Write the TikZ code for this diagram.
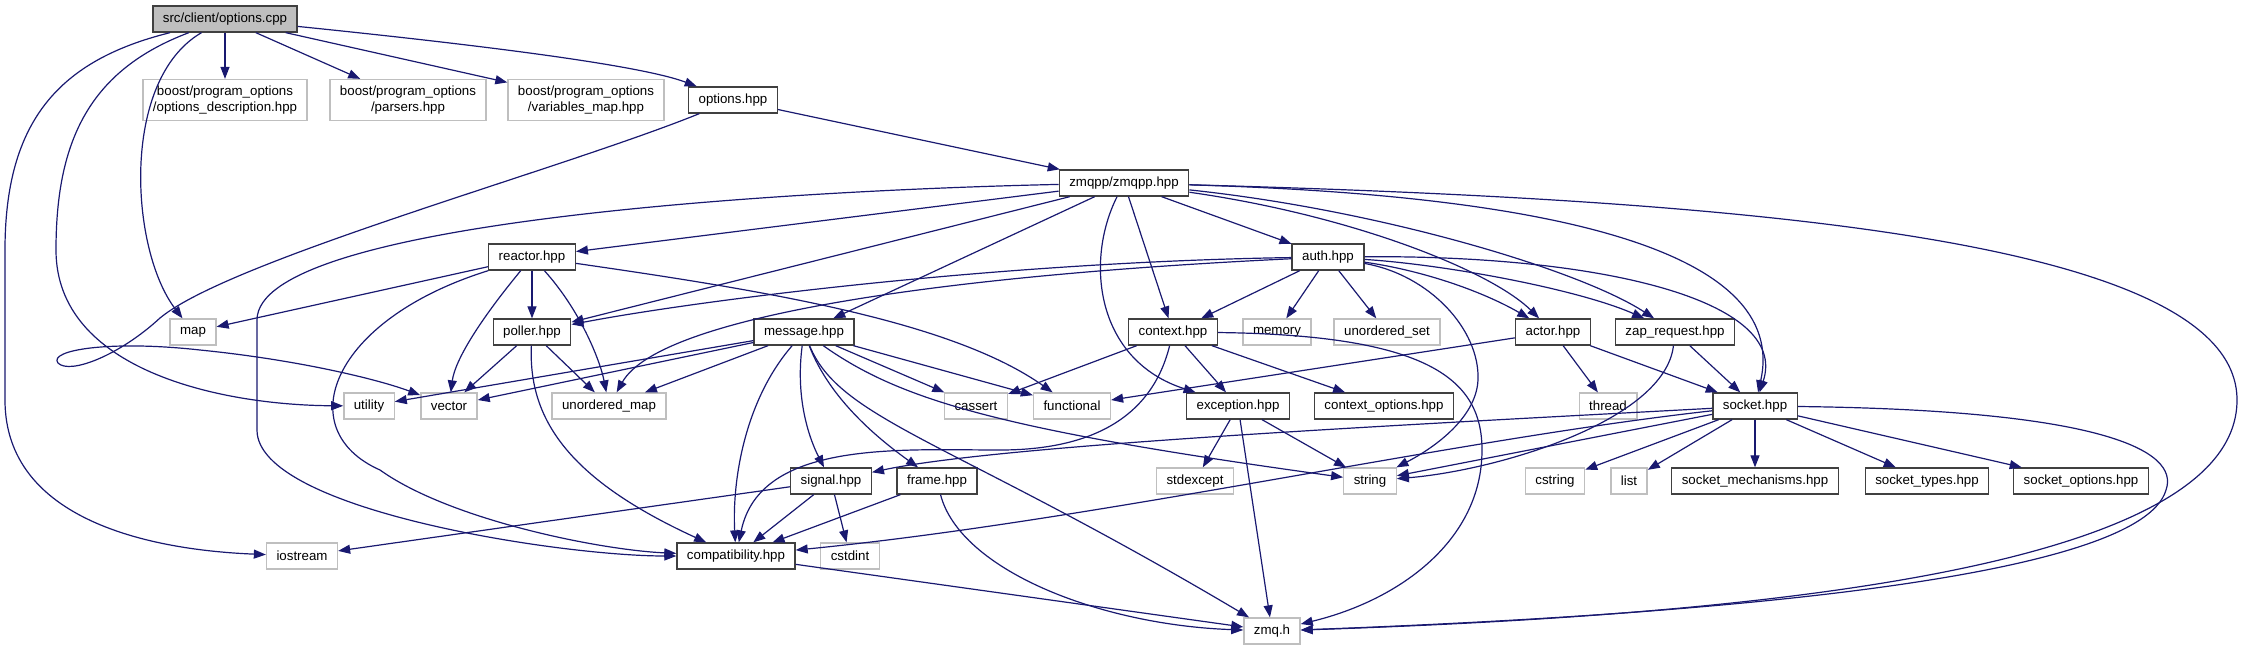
\documentclass[tikz,border=0pt]{standalone}
\usepackage{fontspec}
\setmainfont{Liberation Sans}
\usepackage{tikz}
\usetikzlibrary{arrows.meta}
\definecolor{midnight}{HTML}{191970}
\definecolor{grey25}{HTML}{404040}
\definecolor{grey75}{HTML}{BFBFBF}
\newcommand{\dxf}{\fontsize{13.3}{15.5}\selectfont}
\tikzset{
  hdr/.style={rectangle, draw=grey25, fill=white, line width=1.3pt,
              font=\dxf, align=center, inner xsep=10pt, inner ysep=2pt,
              minimum height=26pt},
  sys/.style={hdr, draw=grey75},
  root/.style={hdr, fill=grey75},
  incl/.style={-{Triangle[length=12pt,width=9pt]}, line width=1.2pt, draw=midnight},
}

\begin{document}
\begin{tikzpicture}[x=1pt, y=-1pt]
  \useasboundingbox (0,0) rectangle (2243,649);

  \node[root] (cpp) at (225,19) {src/client/options.cpp};
  \node[sys, minimum height=41pt] (podesc) at (225,100) {boost/program\_options\\/options\_description.hpp};
  \node[sys, minimum height=41pt] (pparse) at (408,100) {boost/program\_options\\/parsers.hpp};
  \node[sys, minimum height=41pt] (pvmap) at (586,100) {boost/program\_options\\/variables\_map.hpp};
  \node[hdr] (opthpp) at (733,100) {options.hpp};
  \node[hdr] (zmqpp) at (1124,183) {zmqpp/zmqpp.hpp};
  \node[hdr] (reactor) at (532,257) {reactor.hpp};
  \node[hdr] (auth) at (1328,257) {auth.hpp};
  \node[sys] (map) at (193,332) {map};
  \node[hdr] (poller) at (532,332) {poller.hpp};
  \node[hdr] (message) at (804,332) {message.hpp};
  \node[hdr] (context) at (1173,332) {context.hpp};
  \node[sys] (memory) at (1277,332) {memory};
  \node[sys] (uset) at (1387,332) {unordered\_set};
  \node[hdr] (actor) at (1553,332) {actor.hpp};
  \node[hdr] (zap) at (1675,332) {zap\_request.hpp};
  \node[sys] (utility) at (369,406) {utility};
  \node[sys] (vector) at (449,406) {vector};
  \node[sys] (umap) at (609,406) {unordered\_map};
  \node[sys] (cassert) at (976,406) {cassert};
  \node[sys] (functional) at (1072,406) {functional};
  \node[hdr] (exception) at (1238,406) {exception.hpp};
  \node[hdr] (ctxopt) at (1384,406) {context\_options.hpp};
  \node[sys] (thread) at (1608,406) {thread};
  \node[hdr] (socket) at (1755,406) {socket.hpp};
  \node[hdr] (signal) at (831,481) {signal.hpp};
  \node[hdr] (frame) at (937,481) {frame.hpp};
  \node[sys] (stdexcept) at (1195,481) {stdexcept};
  \node[sys] (string) at (1370,481) {string};
  \node[sys] (cstring) at (1555,481) {cstring};
  \node[sys] (list) at (1629,481) {list};
  \node[hdr] (sockmech) at (1755,481) {socket\_mechanisms.hpp};
  \node[hdr] (socktypes) at (1927,481) {socket\_types.hpp};
  \node[hdr] (sockopt) at (2081,481) {socket\_options.hpp};
  \node[sys] (iostream) at (302,556) {iostream};
  \node[hdr] (compat) at (736,556) {compatibility.hpp};
  \node[sys] (cstdint) at (850,556) {cstdint};
  \node[sys] (zmqh) at (1272,631) {zmq.h};

  \draw[incl] (cpp) -- (podesc);
  \draw[incl] (cpp) -- (pparse);
  \draw[incl] (cpp) -- (pvmap);
  \draw[incl] (cpp) .. controls (480,45) and (640,65) .. (opthpp);
  \draw[incl] (cpp) .. controls (120,80) and (130,250) .. (map);
  \draw[incl] (cpp) .. controls (90,70) and (56,140) .. (56,250)
              .. controls (56,370) and (220,405) .. (utility);
  \draw[incl] (cpp) .. controls (60,60) and (5,120) .. (5,250) -- (5,400)
              .. controls (5,520) and (150,550) .. (iostream);

  \draw[incl] (opthpp) -- (zmqpp);
  \draw[incl] (opthpp) .. controls (560,170) and (230,260) .. (160,318)
              .. controls (120,355) and (70,375) .. (58,363)
              .. controls (48,350) and (110,340) .. (200,350)
              .. controls (300,360) and (380,380) .. (vector);

  \draw[incl] (zmqpp) -- (reactor);
  \draw[incl] (zmqpp) -- (poller);
  \draw[incl] (zmqpp) -- (message);
  \draw[incl] (zmqpp) -- (context);
  \draw[incl] (zmqpp) .. controls (1085,260) and (1095,360) .. (exception);
  \draw[incl] (zmqpp) -- (auth);
  \draw[incl] (zmqpp) .. controls (1350,215) and (1490,270) .. (actor);
  \draw[incl] (zmqpp) .. controls (1380,210) and (1580,270) .. (zap);
  \draw[incl] (zmqpp) .. controls (1550,195) and (1790,250) .. (socket);
  \draw[incl] (zmqpp) .. controls (800,190) and (257,220) .. (257,320) -- (257,430)
              .. controls (257,510) and (560,556) .. (compat);
  \draw[incl] (zmqpp) .. controls (1750,200) and (2237,240) .. (2237,400)
              .. controls (2237,570) and (1750,615) .. (zmqh);

  \draw[incl] (reactor) -- (map);
  \draw[incl] (reactor) -- (poller);
  \draw[incl] (reactor) .. controls (480,320) and (455,360) .. (vector);
  \draw[incl] (reactor) .. controls (580,310) and (600,360) .. (umap);
  \draw[incl] (reactor) .. controls (760,290) and (950,320) .. (functional);
  \draw[incl] (reactor) .. controls (330,320) and (290,430) .. (380,470)
              .. controls (450,520) and (600,550) .. (compat);

  \draw[incl] (poller) -- (vector);
  \draw[incl] (poller) -- (umap);
  \draw[incl] (poller) .. controls (528,420) and (570,480) .. (compat);

  \draw[incl] (auth) .. controls (1000,262) and (700,300) .. (poller);
  \draw[incl] (auth) .. controls (950,275) and (660,315) .. (umap);
  \draw[incl] (auth) -- (context);
  \draw[incl] (auth) -- (memory);
  \draw[incl] (auth) -- (uset);
  \draw[incl] (auth) .. controls (1420,270) and (1480,290) .. (actor);
  \draw[incl] (auth) .. controls (1450,265) and (1580,290) .. (zap);
  \draw[incl] (auth) .. controls (1600,255) and (1790,300) .. (socket);
  \draw[incl] (auth) .. controls (1430,275) and (1480,330) .. (1478,380)
              .. controls (1476,420) and (1430,450) .. (string);

  \draw[incl] (actor) -- (functional);
  \draw[incl] (actor) -- (thread);
  \draw[incl] (actor) -- (socket);
  \draw[incl] (zap) -- (socket);
  \draw[incl] (zap) .. controls (1665,420) and (1500,470) .. (string);

  \draw[incl] (context) -- (cassert);
  \draw[incl] (context) -- (exception);
  \draw[incl] (context) -- (ctxopt);
  \draw[incl] (context) .. controls (1430,335) and (1482,380) .. (1482,450)
              .. controls (1482,540) and (1400,600) .. (zmqh);
  \draw[incl] (context) .. controls (1150,425) and (1080,450) .. (1000,450)
              .. controls (900,450) and (760,440) .. (compat);

  \draw[incl] (exception) -- (stdexcept);
  \draw[incl] (exception) -- (string);
  \draw[incl] (exception) -- (zmqh);

  \draw[incl] (message) -- (utility);
  \draw[incl] (message) -- (vector);
  \draw[incl] (message) -- (umap);
  \draw[incl] (message) -- (cassert);
  \draw[incl] (message) -- (functional);
  \draw[incl] (message) .. controls (795,400) and (810,440) .. (signal);
  \draw[incl] (message) .. controls (830,400) and (880,440) .. (frame);
  \draw[incl] (message) .. controls (745,400) and (732,480) .. (compat);
  \draw[incl] (message) .. controls (840,420) and (950,440) .. (zmqh);
  \draw[incl] (message) .. controls (900,400) and (1000,430) .. (string);

  \draw[incl] (signal) -- (iostream);
  \draw[incl] (signal) -- (compat);
  \draw[incl] (signal) -- (cstdint);
  \draw[incl] (frame) -- (compat);
  \draw[incl] (frame) .. controls (960,570) and (1100,625) .. (zmqh);
  \draw[incl] (compat) -- (zmqh);

  \draw[incl] (socket) .. controls (1400,425) and (1000,445) .. (signal);
  \draw[incl] (socket) .. controls (1450,440) and (1100,520) .. (compat);
  \draw[incl] (socket) -- (string);
  \draw[incl] (socket) -- (cstring);
  \draw[incl] (socket) -- (list);
  \draw[incl] (socket) -- (sockmech);
  \draw[incl] (socket) -- (socktypes);
  \draw[incl] (socket) -- (sockopt);
  \draw[incl] (socket) .. controls (2100,410) and (2180,450) .. (2166,490)
              .. controls (2140,580) and (1700,615) .. (zmqh);
\end{tikzpicture}
\end{document}
